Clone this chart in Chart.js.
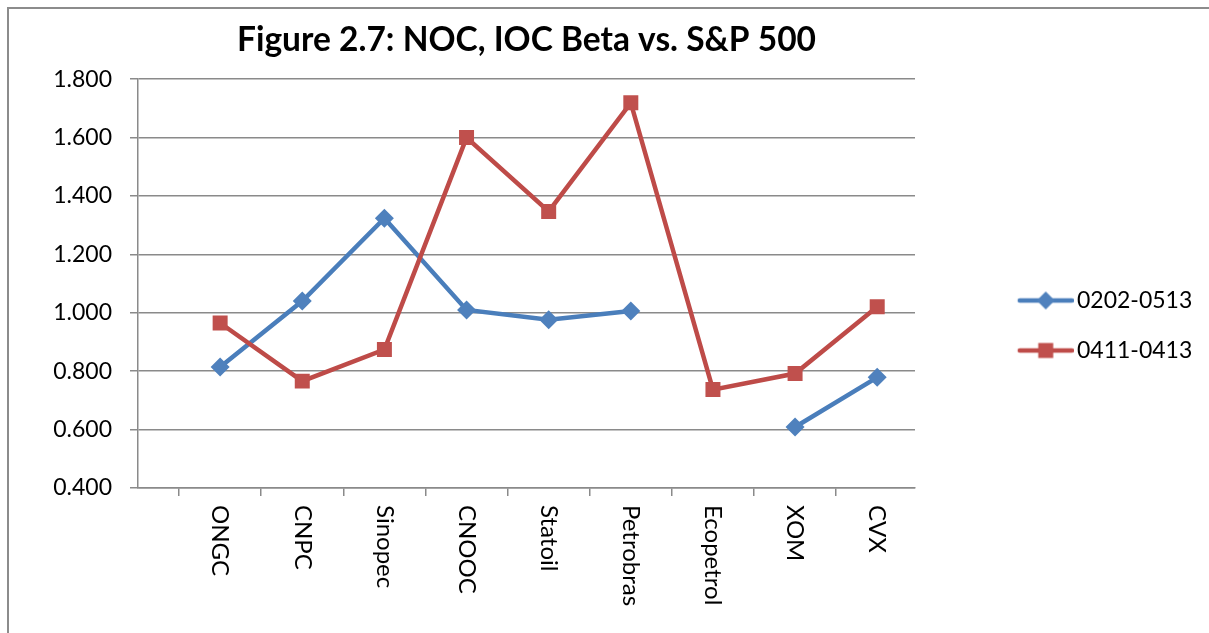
<!DOCTYPE html>
<html><head><meta charset="utf-8">
<script src="https://cdn.jsdelivr.net/npm/chart.js@4.4.1/dist/chart.umd.min.js"></script>
<style>html,body{margin:0;padding:0;background:#fff;overflow:hidden}#wrap{position:relative;width:1209px;height:633px}</style>
</head><body><div id="wrap"><canvas id="c" width="1209" height="633"></canvas></div>
<script>
const categories = ['ONGC','CNPC','Sinopec','CNOOC','Statoil','Petrobras','Ecopetrol','XOM','CVX'];
const seriesNames = ['0202-0513','0411-0413'];
const beta0202_0513 = [0.814,1.040,1.324,1.010,0.976,1.006,null,0.609,0.779];
const beta0411_0413 = [0.965,0.766,0.874,1.600,1.347,1.719,0.737,0.792,1.021];
const yTicks = [0.4,0.6,0.8,1.0,1.2,1.4,1.6,1.8];
const titleText = 'Figure 2.7: NOC, IOC Beta vs. S&P 500';

const FONT = 'Lato';
const GRID = '#8a8a8a';
const BLUE = '#4A7EBB', BLUE_M = '#4F81BD';
const RED = '#BE4B48', RED_M = '#C0504D';

// legend geometry
const LEG_FONT = 23, LEG_PAD = 27, LEG_BOX = 123.5, ICON_W = 140;
function legendIcon(color, mColor, shape){
  const c = document.createElement('canvas');
  c.width = ICON_W; c.height = 20;
  const g = c.getContext('2d');
  const x0 = ICON_W - 56, xm = ICON_W - 28;
  g.strokeStyle = color; g.lineWidth = 4.5; g.lineCap = 'round';
  g.beginPath(); g.moveTo(x0 + 2, 10); g.lineTo(ICON_W - 2, 10); g.stroke();
  g.fillStyle = mColor;
  g.beginPath();
  if (shape === 'diamond'){ g.moveTo(xm,1); g.lineTo(xm+9,10); g.lineTo(xm,19); g.lineTo(xm-9,10); g.closePath(); }
  else { g.rect(xm-7.5,2.5,15,15); }
  g.fill();
  return c;
}
const icons = [legendIcon(BLUE,BLUE_M,'diamond'), legendIcon(RED,RED_M,'square')];

const toPts = arr => categories.map((c,i)=>({x:i, y:arr[i]}));

const framePlugin = {
  id:'frame',
  beforeDraw(chart){
    const ctx = chart.ctx;
    ctx.save();
    ctx.strokeStyle = '#8c8c8c'; ctx.lineWidth = 2;
    ctx.beginPath();
    ctx.moveTo(8, 700); ctx.lineTo(8, 8); ctx.lineTo(1300, 8);
    ctx.stroke();
    ctx.restore();
  }
};
const catLabelPlugin = {
  id:'catLabels',
  afterDraw(chart){
    const ctx = chart.ctx, sx = chart.scales.x;
    ctx.save();
    ctx.font = '24px ' + FONT;
    ctx.fillStyle = '#000';
    ctx.textAlign = 'left'; ctx.textBaseline = 'middle';
    categories.forEach((c,i)=>{
      const x = sx.getPixelForValue(i);
      ctx.save();
      ctx.translate(x, sx.top + 17);
      ctx.rotate(Math.PI/2);
      ctx.fillText(c, 0, 0);
      ctx.restore();
    });
    ctx.restore();
  }
};

function build(){
  const mctx = document.createElement('canvas').getContext('2d');
  mctx.font = LEG_FONT + 'px ' + FONT;
  const textW = Math.max(...seriesNames.map(s => mctx.measureText(s).width));
  const legendW = LEG_PAD + LEG_BOX + LEG_FONT/2 + textW + 10;
  const padRight = Math.max(0, 1209 - 915 - legendW);

new Chart(document.getElementById('c'), {
  type:'line',
  data:{
    datasets:[
      {label:seriesNames[0], data:toPts(beta0202_0513), borderColor:BLUE, backgroundColor:BLUE_M,
       borderWidth:4.5, pointStyle:'rectRot', pointRadius:9.5, pointBackgroundColor:BLUE_M, pointBorderWidth:0,
       spanGaps:false, order:1, tension:0},
      {label:seriesNames[1], data:toPts(beta0411_0413), borderColor:RED, backgroundColor:RED_M,
       borderWidth:4.5, pointStyle:'rect', pointRadius:10.6, pointBackgroundColor:RED_M, pointBorderWidth:0,
       spanGaps:false, order:0, tension:0}
    ]
  },
  options:{
    responsive:false, animation:false, devicePixelRatio:1,
    layout:{padding:{top:18,left:0,right:padRight,bottom:0}},
    plugins:{
      tooltip:{enabled:false},
      title:{display:true, text:titleText, fullSize:false, color:'#000',
        font:{family:FONT, size:33.5, weight:'bold'}, padding:{top:2, bottom:19}},
      legend:{position:'right', align:'center',
        labels:{font:{family:FONT,size:LEG_FONT}, color:'#000', padding:LEG_PAD, usePointStyle:true, pointStyleWidth:LEG_BOX,
          generateLabels(chart){
            return chart.data.datasets.map((d,i)=>({text:d.label, pointStyle:icons[i], fillStyle:d.borderColor,
              strokeStyle:d.borderColor, lineWidth:0, hidden:false, datasetIndex:i, fontColor:'#000'}));
          }}}
    },
    scales:{
      x:{type:'linear', position:'bottom', min:-1, max:8.46,
        afterBuildTicks(s){ s.ticks = categories.map((c,i)=>({value:i-0.5})); },
        afterFit(s){ s.height = 145; },
        ticks:{display:false},
        grid:{drawOnChartArea:false, drawTicks:true, tickLength:8, color:GRID, lineWidth:1.5},
        border:{display:true, color:GRID, width:1.5}},
      y:{type:'linear', position:'left', min:0.4, max:1.8,
        afterBuildTicks(s){ s.ticks = yTicks.map(v=>({value:v})); },
        afterFit(s){ s.width = 138; },
        ticks:{font:{family:FONT,size:23}, color:'#000', padding:18, callback:v=>Number(v).toFixed(3)},
        grid:{color:GRID, lineWidth:1.5, tickLength:8, drawTicks:true},
        border:{display:true, color:GRID, width:1.5}}
    }
  },
  plugins:[framePlugin, catLabelPlugin]
});
}
const fontLoads = document.fonts ? Promise.all([
  document.fonts.load('23px Lato'), document.fonts.load('bold 33px Lato'), document.fonts.load('24px Lato')
]) : Promise.resolve();
let built = false;
const go = () => { if (!built) { built = true; build(); } };
Promise.race([fontLoads, new Promise(r=>setTimeout(r,1500))]).then(go, go);
</script></body></html>
